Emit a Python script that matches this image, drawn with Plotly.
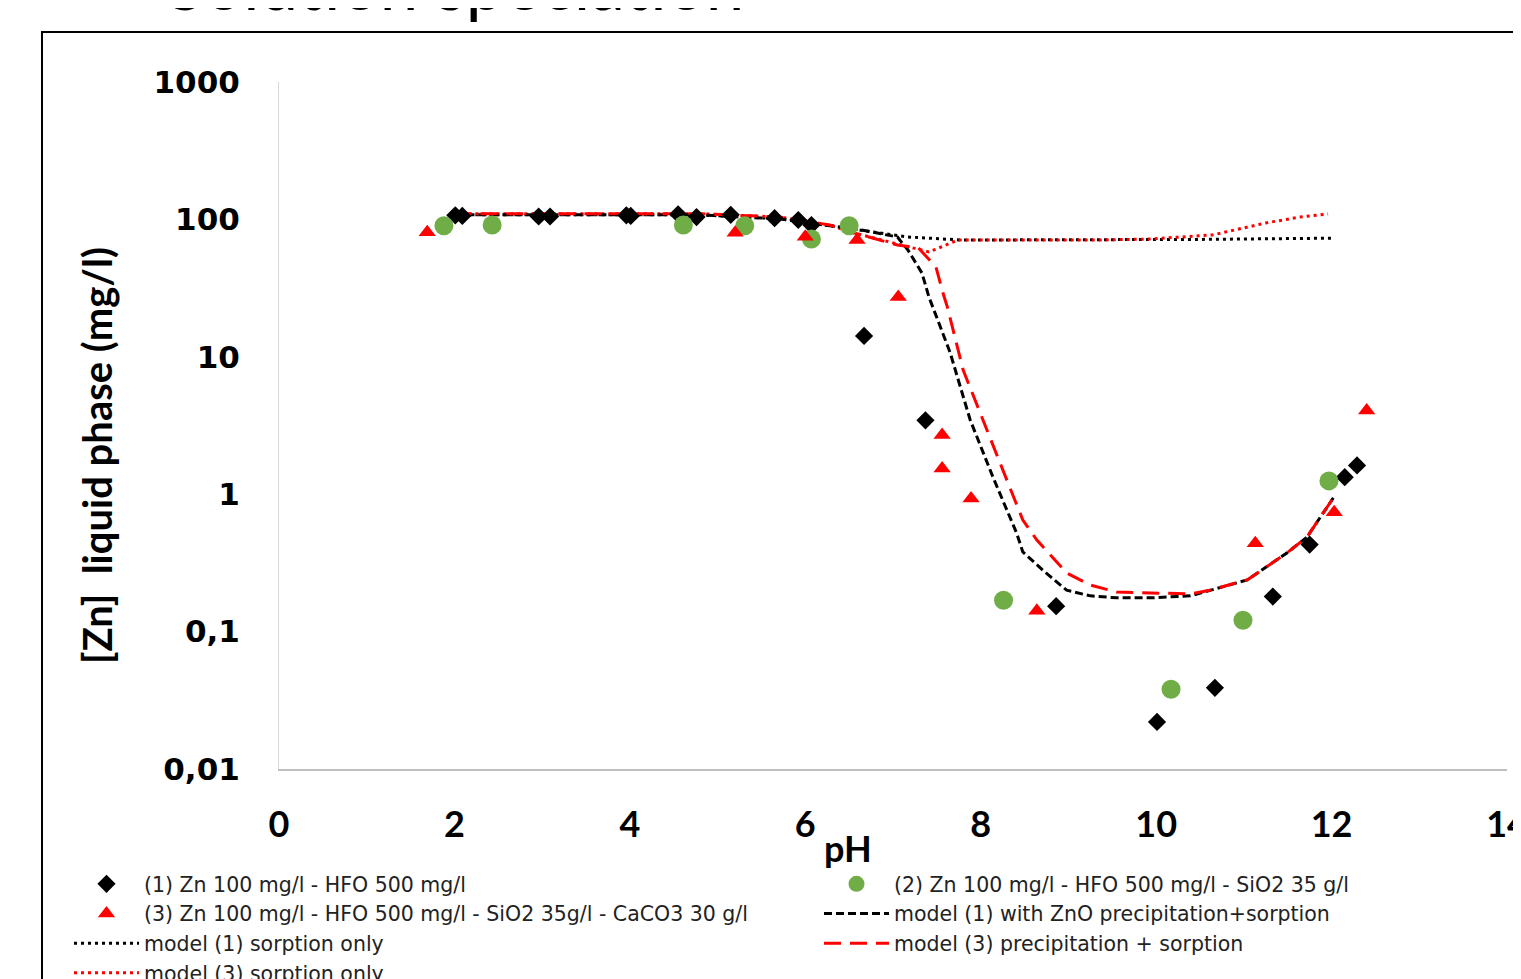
import plotly.graph_objects as go

# ---------------- data ----------------
diamond_ph = [2.01, 2.09, 2.96, 3.09, 3.96, 4.01, 4.55, 4.76, 5.15, 5.65, 5.92, 6.07,
              6.67, 7.37, 8.86, 10.01, 10.67, 11.33, 11.75, 12.15, 12.29]
diamond_zn = [107, 106, 105, 105, 107, 106, 109, 104, 108, 102, 99, 91,
              14.2, 3.45, 0.153, 0.022, 0.039, 0.18, 0.43, 1.33, 1.62]

green_ph = [1.88, 2.43, 4.61, 5.31, 6.07, 6.50, 8.26, 10.17, 10.99, 11.97]
green_zn = [90, 91, 91, 90, 72, 90, 0.169, 0.038, 0.121, 1.25]

tri_ph = [1.69, 5.20, 6.00, 6.59, 7.06, 7.56, 7.56, 7.89, 8.64, 11.13, 12.03, 12.40]
tri_zn = [80.5, 80, 74.8, 70.8, 27.2, 2.70, 1.54, 0.93, 0.142, 0.44, 0.74, 4.07]

m1p_ph = [2.0, 3.66, 4.80, 5.71, 6.28, 6.64, 7.05, 7.17, 7.33, 7.41, 7.65, 7.88, 8.14,
          8.41, 8.48, 8.73, 8.98, 9.25, 9.55, 9.93, 10.39, 10.61, 11.04, 11.49, 11.72, 12.02]
m1p_zn = [108, 108, 108, 100.7, 89.5, 83.7, 74.5, 59.9, 40.7, 27.2, 10.8, 3.47, 1.33,
          0.52, 0.38, 0.272, 0.20, 0.182, 0.176, 0.176, 0.182, 0.20, 0.238, 0.373, 0.488, 0.94]

m3p_ph = [2.0, 3.66, 4.80, 5.71, 6.28, 6.56, 7.05, 7.29, 7.49, 7.57, 7.62, 7.80, 8.02,
          8.22, 8.48, 8.64, 8.98, 9.25, 9.55, 9.90, 10.39, 10.61, 11.04, 11.49, 11.72, 12.02]
m3p_zn = [110, 110, 110, 104, 91, 79.6, 65.1, 62, 45, 29.1, 23.0, 8.0, 3.59,
          1.69, 0.649, 0.464, 0.267, 0.218, 0.194, 0.191, 0.188, 0.20, 0.238, 0.373, 0.488, 0.94]

m1s_ph = [2.0, 4.80, 5.71, 6.28, 6.59, 7.17, 7.78, 9.0, 10.5, 12.0]
m1s_zn = [108, 108, 101, 89.5, 83.7, 74.5, 70.8, 70.8, 71.5, 73]

m3s_ph = [2.0, 4.80, 5.71, 6.28, 6.56, 7.17, 7.41, 7.74, 8.22, 9.36, 9.93, 10.64, 11.25, 11.64, 11.96]
m3s_zn = [110, 110, 104, 91, 79.6, 63, 57.9, 70.8, 70.8, 70.8, 72, 77, 94.2, 104, 109.5]

x_ticks = [0, 2, 4, 6, 8, 10, 12, 14]
y_ticks = [0.01, 0.1, 1, 10, 100, 1000]
y_ticktext = ["0,01", "0,1", "1", "10", "100", "1000"]

names = {
    "d": "(1) Zn 100 mg/l - HFO 500 mg/l",
    "g": "(2) Zn 100 mg/l - HFO 500 mg/l - SiO2 35 g/l",
    "t": "(3) Zn 100 mg/l - HFO 500 mg/l - SiO2 35g/l - CaCO3 30 g/l",
    "m1p": "model (1) with ZnO precipitation+sorption",
    "m1s": "model (1) sorption only",
    "m3p": "model (3) precipitation + sorption",
    "m3s": "model (3) sorption only",
}

RED = "#FF0000"
GREEN = "#70AD47"
LEFTW = 670
RIGHTW = 520

fig = go.Figure()

# model lines (drawn first, below markers)
fig.add_trace(go.Scatter(x=m1s_ph, y=m1s_zn, mode="lines", name=names["m1s"], legendrank=5,
                         legendwidth=LEFTW,
                         line=dict(color="black", width=3, dash="3px,4px")))
fig.add_trace(go.Scatter(x=m3s_ph, y=m3s_zn, mode="lines", name=names["m3s"], legendrank=7,
                         legendwidth=LEFTW,
                         line=dict(color=RED, width=3, dash="3px,4px")))
fig.add_trace(go.Scatter(x=m1p_ph, y=m1p_zn, mode="lines", name=names["m1p"], legendrank=4,
                         legendwidth=RIGHTW,
                         line=dict(color="black", width=3, dash="8px,4px")))
fig.add_trace(go.Scatter(x=m3p_ph, y=m3p_zn, mode="lines", name=names["m3p"], legendrank=6,
                         legendwidth=RIGHTW,
                         line=dict(color=RED, width=3, dash="17px,9px")))

# measured data
fig.add_trace(go.Scatter(x=diamond_ph, y=diamond_zn, mode="markers", name=names["d"], legendrank=1,
                         legendwidth=LEFTW,
                         marker=dict(symbol="diamond", size=14, color="black")))
fig.add_trace(go.Scatter(x=green_ph, y=green_zn, mode="markers", name=names["g"], legendrank=2,
                         legendwidth=RIGHTW,
                         marker=dict(symbol="circle", size=19, color=GREEN)))
fig.add_trace(go.Scatter(x=tri_ph, y=tri_zn, mode="markers", name=names["t"], legendrank=3,
                         legendwidth=LEFTW,
                         marker=dict(symbol="triangle-up", size=15, color=RED)))

# the page is rendered with an 8 px body margin
OFF = 8
W, H = 1521, 979
SX0, SX1, SY0, SY1 = 279, 1507, 82, 769   # plot area on screen
pw, ph = SX1 - SX0, SY1 - SY0
L, T = SX0 - OFF, SY0 - OFF
R, B = W - L - pw, H - T - ph


def px(xp):
    return (xp - SX0) / pw


def py(yp):
    return (SY1 - yp) / ph


fig.update_layout(
    width=W, height=H,
    margin=dict(l=L, r=R, t=T, b=B, pad=0, autoexpand=False),
    paper_bgcolor="white", plot_bgcolor="white",
    showlegend=True,
    legend=dict(
        orientation="h", x=px(69), y=py(864), xanchor="left", yanchor="top",
        xref="paper", yref="paper",
        font=dict(family="DejaVu Sans", size=20.5, color="#222222"),
        itemwidth=65, bgcolor="rgba(0,0,0,0)", borderwidth=0,
        traceorder="normal", tracegroupgap=0,
    ),
    xaxis=dict(
        range=[0, 14], tickvals=x_ticks, showgrid=False, zeroline=False,
        showline=True, linecolor="#BFBFBF", linewidth=1.5, ticks="",
        tickfont=dict(family="Lato", size=36, color="black", weight="bold"),
        ticklabelstandoff=23, ticklabeloverflow="allow",
    ),
    yaxis=dict(
        type="log", range=[-2, 3], tickvals=y_ticks, ticktext=y_ticktext,
        showgrid=False, zeroline=False, showline=True, linecolor="#D9D9D9",
        linewidth=1, ticks="",
        tickfont=dict(family="DejaVu Sans", size=31, color="black", weight="bold"),
        ticklabelstandoff=32,
    ),
    shapes=[dict(type="rect", xref="paper", yref="paper",
                 x0=px(42), x1=px(1560), y0=py(1020), y1=py(32),
                 line=dict(color="black", width=2), fillcolor="rgba(0,0,0,0)", layer="below")],
    annotations=[
        dict(text="Solution speciation", xref="paper", yref="paper",
             x=px(165), y=py(27), xanchor="left", yanchor="bottom", showarrow=False,
             font=dict(family="Lato", size=69, color="black")),
        dict(text="pH", xref="paper", yref="paper", x=px(848), y=py(848),
             xanchor="center", yanchor="middle", showarrow=False,
             font=dict(family="Lato", size=36, color="black", weight="bold")),
        dict(text="[Zn]  liquid phase (mg/l)", xref="paper", yref="paper",
             x=px(97), y=py(456), xanchor="center", yanchor="middle", textangle=-90,
             showarrow=False,
             font=dict(family="Lato", size=40, color="black", weight="bold")),
    ],
)

fig.write_html("out.html")
